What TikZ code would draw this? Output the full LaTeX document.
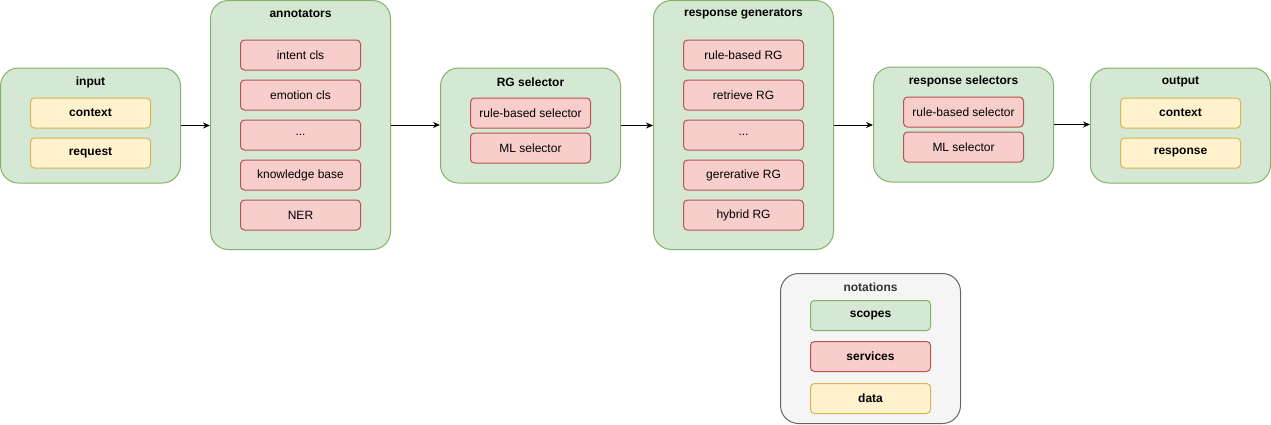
\documentclass[tikz,border=0pt]{standalone}
\usepackage{fontspec}
\setmainfont{Liberation Sans}
\usetikzlibrary{arrows.meta}

\definecolor{scopefill}{HTML}{D5E8D4}
\definecolor{scopeline}{HTML}{82B366}
\definecolor{servfill}{HTML}{F8CECC}
\definecolor{servline}{HTML}{B85450}
\definecolor{datafill}{HTML}{FFF2CC}
\definecolor{dataline}{HTML}{D6B656}
\definecolor{notefill}{HTML}{F5F5F5}
\definecolor{noteline}{HTML}{666666}
\definecolor{notetext}{HTML}{333333}

\tikzset{
    scopebox/.style = {draw=scopeline, fill=scopefill, rounded corners=18pt,
                       minimum width=180pt, inner sep=0pt},
    servicebox/.style = {draw=servline, fill=servfill, rounded corners=4pt,
                         minimum width=120pt, minimum height=30pt, inner sep=0pt},
    databox/.style = {draw=dataline, fill=datafill, rounded corners=4pt,
                      minimum width=120pt, minimum height=30pt, inner sep=0pt,
                      font=\fontsize{12}{14}\selectfont\bfseries},
    title/.style = {inner sep=0pt, font=\fontsize{12}{14}\selectfont\bfseries},
    flow/.style = {-{Stealth[length=7pt, width=6pt]}, line width=1pt},
}

\begin{document}
\begin{tikzpicture}[x=1pt, y=-1pt, line width=1pt, font=\fontsize{12}{14}\selectfont]
    \useasboundingbox (0,0) rectangle (1271,424);

    % Eingabe
    \node[scopebox, minimum height=115pt] (input) at (90.5,125.5) {};
    \node[title] (inputtitle) at (90.5,82) {input};
    \node[databox] (incontext) at (90.5,113) {context};
    \node[databox] (inrequest) at (90.5,153) {request};

    % Annotatoren
    \node[scopebox, minimum height=249pt] (annot) at (300.5,125) {};
    \node[title] (annottitle) at (300.5,14) {annotators};
    \node[servicebox] (intent) at (300.5,55) {intent cls};
    \node[servicebox] (emotion) at (300.5,95) {emotion cls};
    \node[servicebox] (annotdots) at (300.5,135) {...};
    \node[servicebox] (kb) at (300.5,175) {knowledge base};
    \node[servicebox] (ner) at (300.5,215) {NER};

    % RG-Auswahl
    \node[scopebox, minimum height=115pt] (rgsel) at (530.5,125.5) {};
    \node[title] (rgseltitle) at (530.5,82) {RG selector};
    \node[servicebox] (rgrule) at (530.5,113) {rule-based selector};
    \node[servicebox] (rgml) at (530.5,148) {ML selector};

    % Antwortgeneratoren
    \node[scopebox, minimum height=249pt] (gen) at (743.5,125) {};
    \node[title] (gentitle) at (743.5,14) {response generators};
    \node[servicebox] (genrule) at (743.5,55) {rule-based RG};
    \node[servicebox] (genret) at (743.5,95) {retrieve RG};
    \node[servicebox] (gendots) at (743.5,135) {...};
    \node[servicebox] (gengen) at (743.5,175) {gererative RG};
    \node[servicebox] (genhyb) at (743.5,215) {hybrid RG};

    % Antwortauswahl
    \node[scopebox, minimum height=115pt] (ressel) at (963.5,124.5) {};
    \node[title] (reseltitle) at (963.5,81) {response selectors};
    \node[servicebox] (resrule) at (963.5,112) {rule-based selector};
    \node[servicebox] (resml) at (963.5,147) {ML selector};

    % Ausgabe
    \node[scopebox, minimum height=115pt] (output) at (1180.5,125.5) {};
    \node[title] (outputtitle) at (1180.5,82) {output};
    \node[databox] (outcontext) at (1180.5,113) {context};
    \node[databox] (outresponse) at (1180.5,153) {response};

    % Pfeile
    \draw[flow] (input.east) -- (annot.west |- input.east);
    \draw[flow] (annot.east) -- (rgsel.west |- annot.east);
    \draw[flow] (rgsel.east) -- (gen.west |- rgsel.east);
    \draw[flow] (gen.east) -- (ressel.west |- gen.east);
    \draw[flow] (ressel.east) -- (output.west |- ressel.east);

    % Legende
    \node[draw=noteline, fill=notefill, rounded corners=18pt, minimum width=180pt,
          minimum height=150pt, inner sep=0pt] (notes) at (870.5,348.5) {};
    \node[title, text=notetext] (notestitle) at (870.5,287) {notations};
    \node[scopebox, rounded corners=4pt, minimum width=120pt, minimum height=30pt,
          font=\fontsize{12}{14}\selectfont\bfseries] (lscope) at (870.5,315.5) {scopes};
    \node[servicebox, font=\fontsize{12}{14}\selectfont\bfseries] (lservice) at (870.5,356.5) {services};
    \node[databox] (ldata) at (870.5,398.5) {data};
\end{tikzpicture}
\end{document}
